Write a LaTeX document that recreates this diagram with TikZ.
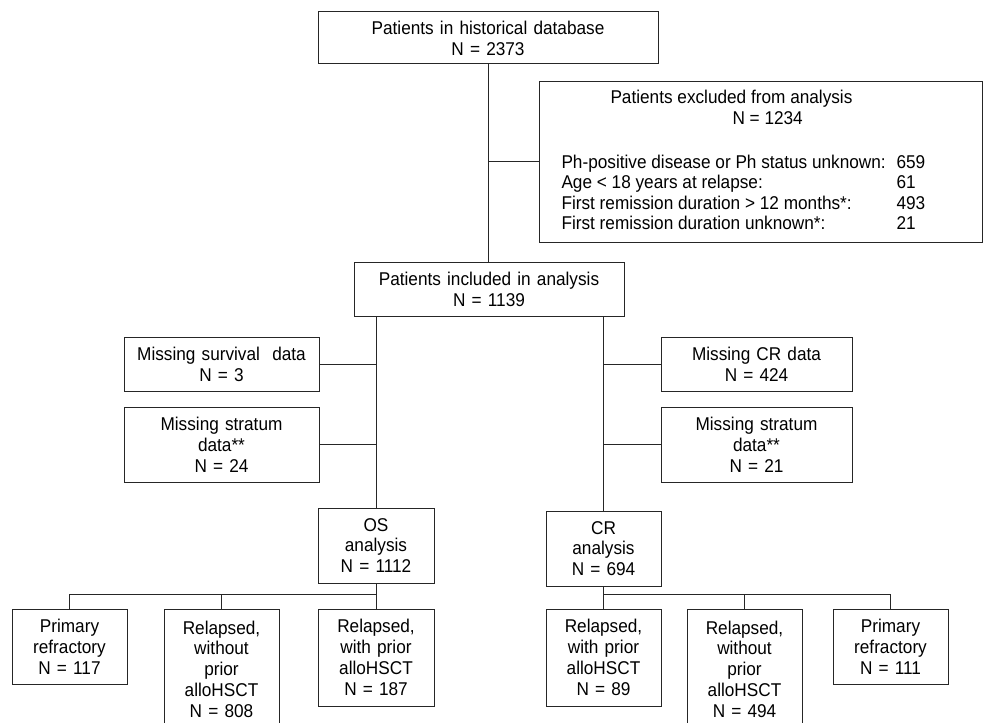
\documentclass[tikz,border=0pt]{standalone}
\usepackage{fontspec}
\setmainfont{Liberation Sans}[FakeStretch=0.93]
\usepackage{tikz}
\usetikzlibrary{positioning}

\begin{document}
\begin{tikzpicture}[x=1pt, y=-1pt, line width=1pt, draw=black!85,
  every node/.style={font=\fontsize{18.5}{20.8}\selectfont},
  box/.style={draw, rectangle, inner sep=0pt, align=center, text width=#1, minimum width=#1},
  box/.default=115pt,
  item/.style={anchor=base west, inner sep=0pt}]
  \useasboundingbox (0,0) rectangle (984,722);
  \clip (0,0) rectangle (984,722);
  \node[box=340pt, minimum height=52pt] (db) at (488,38) {Patients in historical database\\N = 2373};
  \node[draw, rectangle, minimum width=443pt, minimum height=160pt, inner sep=0pt] (excl) at (761,162) {};
  \node[item] (exttl) at (610,104) {Patients excluded from analysis};
  \node[item] (exn) at (732,125) {N = 1234};
  \node[item] (exa) at (561,168) {Ph-positive disease or Ph status unknown:};
  \node[item] (exb) at (561,188.5) {Age < 18 years at relapse:};
  \node[item] (exc) at (561,209) {First remission duration > 12 months*:};
  \node[item] (exd) at (561,229.5) {First remission duration unknown*:};
  \node[item] (exna) at (896,168) {659};
  \node[item] (exnb) at (896,188.5) {61};
  \node[item] (exnc) at (896,209) {493};
  \node[item] (exnd) at (896,229.5) {21};
  \node[box=270pt, minimum height=54pt] (incl) at (489,289) {Patients included in analysis\\N = 1139};
  \node[box=195pt, minimum height=54pt] (misssurv) at (221.5,364) {Missing survival\ \ data\\N = 3};
  \node[box=195pt, minimum height=75pt] (strL) at (221.5,444.5) {Missing stratum\\data**\\N = 24};
  \node[box=191pt, minimum height=54pt] (misscr) at (756.5,364) {Missing CR data\\N = 424};
  \node[box=191pt, minimum height=75pt] (strR) at (756.5,444.5) {Missing stratum\\data**\\N = 21};
  \node[box=116pt, minimum height=75pt] (os) at (376,545.5) {OS\\analysis\\N = 1112};
  \node[box, minimum height=75pt] (cr) at (603.5,548.5) {CR\\analysis\\N = 694};
  \node[box, minimum height=75pt] (prL) at (69.5,646.5) {Primary\\refractory\\N = 117};
  \node[box, minimum height=120pt] (relwoL) at (221.5,669) {Relapsed,\\without\\prior\\alloHSCT\\N = 808};
  \node[box=116pt, minimum height=97pt] (relwL) at (376,657.5) {Relapsed,\\with prior\\alloHSCT\\N = 187};
  \node[box, minimum height=97pt] (relwR) at (603.5,657.5) {Relapsed,\\with prior\\alloHSCT\\N = 89};
  \node[box, minimum height=120pt] (relwoR) at (744.5,669) {Relapsed,\\without\\prior\\alloHSCT\\N = 494};
  \node[box, minimum height=75pt] (prR) at (890.5,646.5) {Primary\\refractory\\N = 111};
  \coordinate (osbar) at (376,594);
  \coordinate (crbar) at (603.5,594);
  \draw (db.south) -- (db.south |- incl.north);
  \draw (db.south |- excl.west) -- (excl.west);
  \draw (incl.south -| os.north) -- (os.north);
  \draw (os.north |- misssurv.east) -- (misssurv.east);
  \draw (os.north |- strL.east) -- (strL.east);
  \draw (incl.south -| cr.north) -- (cr.north);
  \draw (cr.north |- misscr.west) -- (misscr.west);
  \draw (cr.north |- strR.west) -- (strR.west);
  \draw (os.south) -- (relwL.north);
  \draw (osbar) -| (prL.north);
  \draw (osbar) -| (relwoL.north);
  \draw (cr.south) -- (relwR.north);
  \draw (crbar) -| (relwoR.north);
  \draw (crbar) -| (prR.north);
\end{tikzpicture}
\end{document}
